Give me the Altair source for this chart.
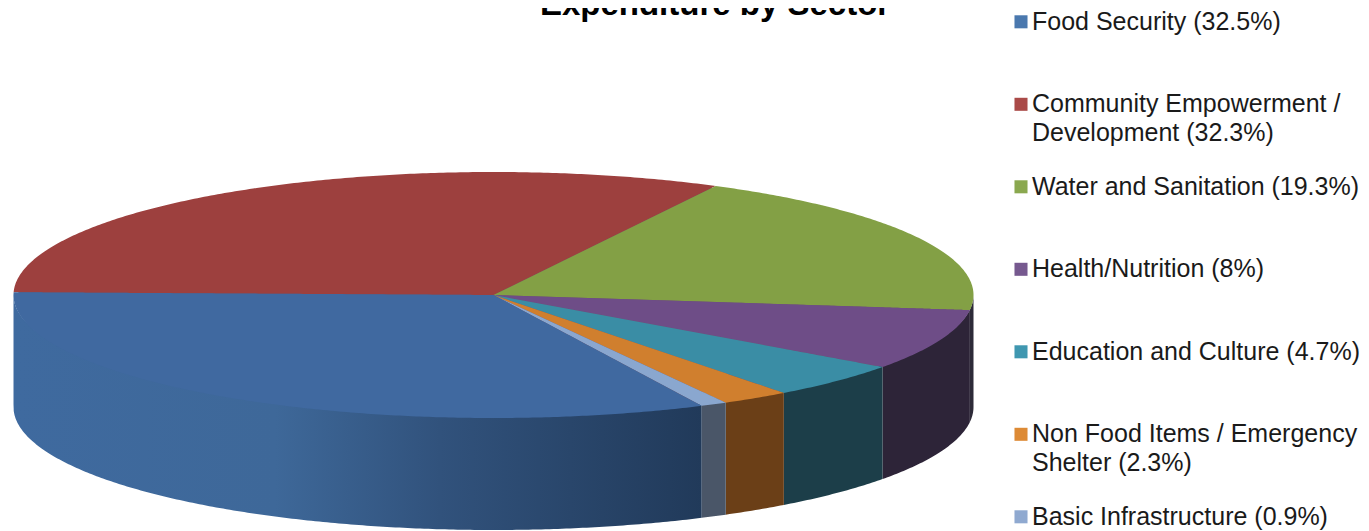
import math
import altair as alt
import pandas as pd

# ---- values ----
sectors = ["Community Empowerment / Development", "Water and Sanitation", "Health/Nutrition",
           "Education and Culture", "Non Food Items / Emergency Shelter", "Basic Infrastructure",
           "Food Security"]
shares = [32.3, 19.3, 8.0, 4.7, 2.3, 0.9, 32.5]
top_colors = ["#9d403e", "#83a045", "#6e4d87", "#3a8da5", "#d07f2e", "#8aa7cf", "#4069a0"]
side_colors = ["#5f2625", "#2d2a38", "#2d2438", "#1c3e49", "#6b3f17", "#4a5668", None]

legend_names = ["Food Security (32.5%)", "Community Empowerment /", "Development (32.3%)",
                "Water and Sanitation (19.3%)", "Health/Nutrition (8%)", "Education and Culture (4.7%)",
                "Non Food Items / Emergency", "Shelter (2.3%)", "Basic Infrastructure (0.9%)"]
legend_slot = [0, 1, 1, 2, 3, 4, 5, 5, 6]
legend_line = [0, 0, 1, 0, 0, 0, 0, 1, 0]
legend_swatch = ["#4a78ae", "#aa4a48", None, "#8aa84f", "#76598f", "#3f97b0", "#dd8a35", None, "#8fa9d0"]
title_text = "Expenditure by Sector"

# ---- view set-up ----
W, H = 1353, 523
RX, RY = 480.0, 123.0
CX, CY = 485.5, 287.0
DEPTH = 112.0 / RY
START = 180.0 - 1.3           # first slice starts at the left edge, going clockwise
LINE_STEP = 0.352

x_scale = alt.Scale(domain=[-CX / RX, (W - CX) / RX], nice=False, zero=False)
y_scale = alt.Scale(domain=[-(H - CY) / RY, CY / RY], nice=False, zero=False)


def arc(a0, a1):
    """Unit-circle points between two angles (degrees), one per half degree."""
    n = max(2, int(abs(a1 - a0) * 2) + 1)
    return [a0 + (a1 - a0) * i / (n - 1) for i in range(n)]


def sector_rows(a0, a1):
    """Upper and lower outline of the convex sector between two angles."""
    poly = [(0.0, 0.0)] + [(math.cos(math.radians(a)), math.sin(math.radians(a))) for a in arc(a0, a1)]
    xs = sorted({round(p[0], 6) for p in poly})
    rows = []
    for x in xs:
        ys = []
        for i in range(len(poly)):
            (x1, y1), (x2, y2) = poly[i], poly[(i + 1) % len(poly)]
            if min(x1, x2) - 1e-6 <= x <= max(x1, x2) + 1e-6:
                if abs(x2 - x1) < 1e-9:
                    ys += [y1, y2]
                else:
                    ys.append(y1 + (y2 - y1) * (x - x1) / (x2 - x1))
        rows.append({"x": x, "y": max(ys), "y2": min(ys)})
    return pd.DataFrame(rows)


def wall_rows(a0, a1):
    """Visible (front) part of the outer wall for a slice."""
    lo, hi = min(a0, a1), max(a0, a1)
    hi = min(hi, 0.0)
    if lo >= hi:
        return None
    rows = []
    for a in arc(lo, hi):
        c, s = math.cos(math.radians(a)), math.sin(math.radians(a))
        rows.append({"x": c, "y": s * 0.97, "y2": s - DEPTH})
    return pd.DataFrame(rows)


def backing_rows():
    """Disc just inside the top face, so slice seams do not show the white page."""
    rows = []
    for a in arc(180.0, 0.0):
        c, s = math.cos(math.radians(a)), math.sin(math.radians(a))
        rows.append({"x": 0.99 * c, "y": 0.98 * s, "y2": -0.98 * s})
    return pd.DataFrame(rows)


def area_layer(df, fill):
    return alt.Chart(df).mark_area(color=fill, opacity=1, interpolate="linear", strokeWidth=0).encode(
        x=alt.X("x:Q", scale=x_scale, axis=None),
        y=alt.Y("y:Q", scale=y_scale, axis=None),
        y2="y2:Q",
    )


blue_wall = alt.Gradient(
    gradient="linear", x1=0, x2=1, y1=0, y2=0,
    stops=[
        alt.GradientStop(offset=0.0, color="#3f6a9f"),
        alt.GradientStop(offset=0.38, color="#3e6899"),
        alt.GradientStop(offset=0.62, color="#31527c"),
        alt.GradientStop(offset=1.0, color="#213a5a"),
    ],
)

walls, tops = [], [area_layer(backing_rows(), "#6f5568")]
angle = START
for name, share, top, side in zip(sectors, shares, top_colors, side_colors):
    sweep = share * 3.6
    a0, a1 = angle, angle - sweep
    angle = a1
    tops.append(area_layer(sector_rows(a0, a1), top))
    wall = wall_rows(a0, a1)
    if a0 > 0 and a1 > 0:
        wall = None
    if wall is not None:
        walls.append(area_layer(wall, side if side else blue_wall))

# ---- legend, positioned on its own slot scale ----
legend_df = pd.DataFrame({
    "name": legend_names,
    "pos": [s + l * LINE_STEP for s, l in zip(legend_slot, legend_line)],
    "swatch": legend_swatch,
})
slot_scale = alt.Scale(domain=[-13.8 / 82.5, (H - 13.8) / 82.5], range=[0, H], nice=False, zero=False)

legend_text = alt.Chart(legend_df).mark_text(
    align="left", baseline="middle", font="Liberation Sans", fontSize=25, color="#1a1a1a"
).encode(
    x=alt.value(1024),
    y=alt.Y("pos:Q", scale=slot_scale, axis=None),
    text="name:N",
)
legend_marks = alt.Chart(legend_df[legend_df["swatch"].notna()]).mark_square(size=170, opacity=1).encode(
    x=alt.value(1013),
    y=alt.Y("pos:Q", scale=slot_scale, axis=None),
    color=alt.Color("swatch:N", scale=None, legend=None),
)
title_mark = alt.Chart(pd.DataFrame({"t": [title_text]})).mark_text(
    align="center", baseline="alphabetic", font="Liberation Sans", fontSize=33, fontWeight="bold", color="#000000"
).encode(x=alt.value(707), y=alt.value(7), text="t:N")

pie = alt.layer(*walls, *tops)
legend = alt.layer(legend_marks, legend_text)

chart = alt.layer(pie, legend, title_mark).resolve_scale(x="independent", y="independent").properties(
    width=W, height=H, padding=0, background="#ffffff", autosize=alt.AutoSizeParams(type="none"),
).configure_view(stroke=None)

chart.save("out.html", embed_options={"renderer": "svg", "actions": False})
